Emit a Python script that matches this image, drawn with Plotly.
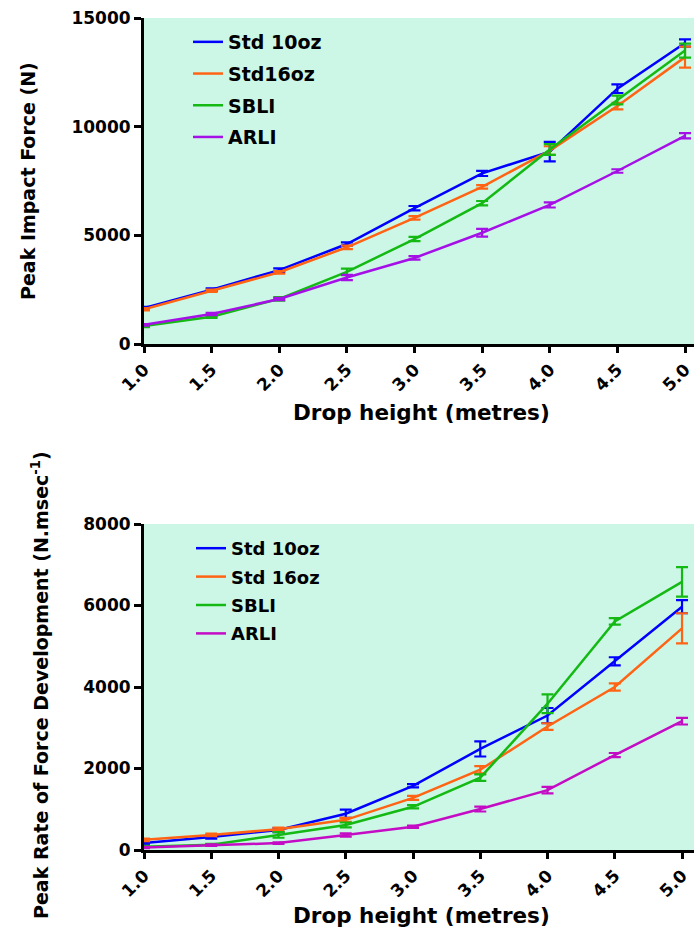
import plotly.graph_objects as go

# ---- data ----
drop_height = [1.0, 1.5, 2.0, 2.5, 3.0, 3.5, 4.0, 4.5, 5.0]
tick_labels = ["1.0", "1.5", "2.0", "2.5", "3.0", "3.5", "4.0", "4.5", "5.0"]

# Peak impact force (N)
std10_force = [1650, 2500, 3400, 4600, 6250, 7850, 8850, 11750, 13850]
std10_force_err = [60, 60, 80, 80, 100, 120, 450, 200, 170]
std16_force = [1600, 2450, 3300, 4450, 5800, 7230, 8900, 10950, 13200]
std16_force_err = [50, 50, 60, 80, 80, 80, 200, 150, 480]
sbli_force = [830, 1250, 2080, 3320, 4830, 6480, 8950, 11230, 13500]
sbli_force_err = [50, 50, 80, 150, 100, 100, 250, 200, 320]
arli_force = [880, 1380, 2070, 3060, 3960, 5120, 6400, 7960, 9580]
arli_force_err = [40, 50, 50, 120, 80, 180, 120, 80, 120]

# Peak rate of force development (N.msec-1)
std10_rfd = [170, 320, 490, 890, 1575, 2480, 3300, 4630, 5970]
std10_rfd_err = [30, 40, 50, 100, 40, 185, 185, 100, 160]
std16_rfd = [250, 370, 510, 740, 1280, 1970, 3030, 4000, 5440]
std16_rfd_err = [30, 30, 40, 50, 50, 90, 80, 90, 370]
sbli_rfd = [80, 130, 370, 615, 1060, 1775, 3590, 5610, 6580]
sbli_rfd_err = [20, 20, 70, 60, 40, 80, 230, 80, 360]
arli_rfd = [60, 120, 170, 370, 570, 1005, 1470, 2330, 3160]
arli_rfd_err = [15, 20, 20, 40, 30, 60, 80, 50, 80]

top_names = ["Std 10oz", "Std16oz", "SBLI", "ARLI"]
bottom_names = ["Std 10oz", "Std 16oz", "SBLI", "ARLI"]
top_yticks = [0, 5000, 10000, 15000]
bottom_yticks = [0, 2000, 4000, 6000, 8000]

BLUE = "#0000ff"
ORANGE = "#ff6414"
GREEN = "#14b914"
PURPLE = "#a510e6"
MAGENTA = "#c40cc4"
BG = "#ccf7e7"
FONT = "DejaVu Sans"

W, H = 694, 928

fig = go.Figure()

top_series = [
    (std10_force, std10_force_err, BLUE),
    (std16_force, std16_force_err, ORANGE),
    (sbli_force, sbli_force_err, GREEN),
    (arli_force, arli_force_err, PURPLE),
]
bottom_series = [
    (std10_rfd, std10_rfd_err, BLUE),
    (std16_rfd, std16_rfd_err, ORANGE),
    (sbli_rfd, sbli_rfd_err, GREEN),
    (arli_rfd, arli_rfd_err, MAGENTA),
]

for i, (name, (vals, errs, col)) in enumerate(zip(top_names, top_series)):
    fig.add_trace(go.Scatter(
        x=drop_height, y=vals, name=name, mode="lines",
        line=dict(color=col, width=2.5),
        error_y=dict(type="data", array=errs, color=col, thickness=2.2, width=6),
        xaxis="x", yaxis="y", legend="legend", legendgroup="t%d" % i,
    ))

for i, (name, (vals, errs, col)) in enumerate(zip(bottom_names, bottom_series)):
    fig.add_trace(go.Scatter(
        x=drop_height, y=vals, name=name, mode="lines",
        line=dict(color=col, width=2.5),
        error_y=dict(type="data", array=errs, color=col, thickness=2.2, width=6),
        xaxis="x2", yaxis="y2", legend="legend2", legendgroup="b%d" % i,
    ))

tickfont = dict(family=FONT, size=17, color="black", weight="bold")

common_x = dict(
    tickmode="array", tickvals=drop_height, ticktext=tick_labels,
    tickangle=-45, tickfont=tickfont, ticks="outside", ticklen=6, tickwidth=2.5,
    tickcolor="black", showline=True, linecolor="black", linewidth=3,
    showgrid=False, zeroline=False, automargin=False,
)
common_y = dict(
    tickfont=tickfont, ticks="outside", ticklen=7, tickwidth=2.5,
    tickcolor="black", showline=True, linecolor="black", linewidth=3,
    showgrid=False, zeroline=False, automargin=False, tickmode="array",
)

x0 = 144 / W

fig.update_layout(
    width=W, height=H,
    margin=dict(l=0, r=0, t=0, b=0, autoexpand=False),
    paper_bgcolor="white",
    plot_bgcolor=BG,
    font=dict(family=FONT, color="black"),
    xaxis=dict(common_x, domain=[x0, 1], range=[1.0, 5.0665], anchor="y"),
    yaxis=dict(common_y, domain=[1 - 344 / H, 1 - 18 / H], range=[0, 15000],
               tickvals=top_yticks, ticktext=[str(v) for v in top_yticks], anchor="x"),
    xaxis2=dict(common_x, domain=[x0, 1], range=[1.0, 5.089], anchor="y2"),
    yaxis2=dict(common_y, domain=[1 - 850 / H, 1 - 524 / H], range=[0, 8000],
                tickvals=bottom_yticks, ticktext=[str(v) for v in bottom_yticks], anchor="x2"),
    legend=dict(x=188 / W, y=1 - 23 / H, xanchor="left", yanchor="top",
                bgcolor="rgba(0,0,0,0)", tracegroupgap=4,
                font=dict(family=FONT, size=19, color="black", weight="bold")),
    legend2=dict(x=191 / W, y=1 - 530 / H, xanchor="left", yanchor="top",
                 bgcolor="rgba(0,0,0,0)", tracegroupgap=2,
                 font=dict(family=FONT, size=18, color="black", weight="bold")),
    showlegend=True,
)

ytitle_font = dict(family=FONT, size=19, color="black", weight="bold")
xtitle_font = dict(family=FONT, size=21.5, color="black", weight="bold")
fig.add_annotation(text="Peak Impact Force (N)", x=28 / W, y=1 - 181 / H,
                   xref="paper", yref="paper", textangle=-90, showarrow=False,
                   xanchor="center", yanchor="middle", font=ytitle_font)
fig.add_annotation(text="Drop height (metres)", x=421 / W, y=1 - 412 / H,
                   xref="paper", yref="paper", showarrow=False,
                   xanchor="center", yanchor="middle", font=xtitle_font)
fig.add_annotation(text="Peak Rate of Force Development (N.msec<sup>-1</sup>)",
                   x=40 / W, y=1 - 685 / H,
                   xref="paper", yref="paper", textangle=-90, showarrow=False,
                   xanchor="center", yanchor="middle", font=ytitle_font)
fig.add_annotation(text="Drop height (metres)", x=421 / W, y=1 - 915 / H,
                   xref="paper", yref="paper", showarrow=False,
                   xanchor="center", yanchor="middle", font=xtitle_font)

fig.write_html("out.html", config={"displayModeBar": False})

# remove the default page margin so the figure sits at the window's top-left
with open("out.html", "r", encoding="utf-8") as f:
    html = f.read()
html = html.replace("<body>", '<body style="margin:0;padding:0;overflow:hidden">', 1)
with open("out.html", "w", encoding="utf-8") as f:
    f.write(html)
